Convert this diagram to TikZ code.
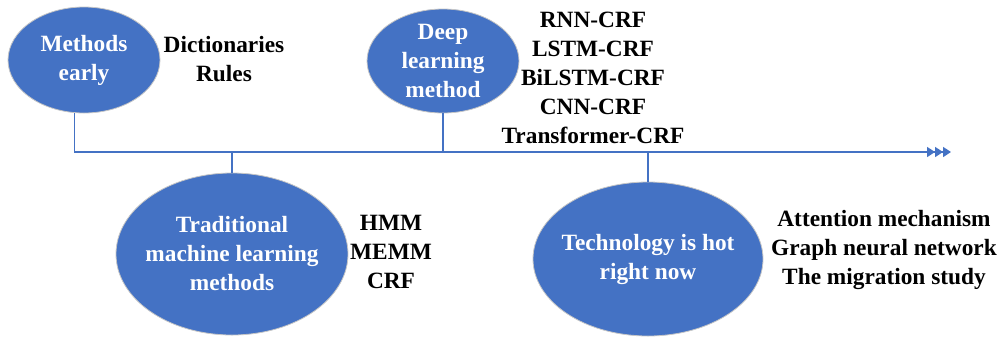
\documentclass[tikz,border=0pt]{standalone}
\usepackage{fontspec}
\setmainfont{Liberation Serif}
\usetikzlibrary{shapes.geometric,arrows.meta}
\definecolor{officeblue}{RGB}{68,114,196}
\begin{document}
\begin{tikzpicture}[x=0.75pt,y=-0.75pt,
  phase/.style={ellipse,fill=officeblue,draw=gray!45,line width=0.6pt,inner xsep=-40pt,inner ysep=-25pt,
    text=white,align=center,font=\fontsize{17.5}{21.75}\selectfont\bfseries},
  items/.style={align=center,font=\fontsize{17.5}{21.75}\selectfont\bfseries},
  link/.style={draw=officeblue,line width=1.2pt},
  tri/.style={-{Triangle[length=6pt,width=7.5pt,sep=0pt]Triangle[length=6pt,width=7.5pt,sep=0pt]Triangle[length=6pt,width=7.5pt]}}]
\useasboundingbox (0,0) rectangle (998,340);
\node[phase,minimum width=114pt,minimum height=79.5pt] (early) at (84,60) {Methods\\early};
\node[phase,minimum width=114pt,minimum height=78pt] (deep) at (443,61) {Deep\\learning\\method};
\node[phase,minimum width=174pt,minimum height=121.5pt] (trad) at (232,254) {Traditional\\machine learning\\methods};
\node[phase,minimum width=172.5pt,minimum height=115.5pt] (hot) at (648,259) {Technology is hot\\right now};
\node[items] (dict) at (224,59) {Dictionaries\\Rules};
\node[items] (crf) at (593,78) {RNN-CRF\\LSTM-CRF\\BiLSTM-CRF\\CNN-CRF\\Transformer-CRF};
\node[items] (hmm) at (391,252) {HMM\\MEMM\\CRF};
\node[items] (gnn) at (884,250) {Attention mechanism\\Graph neural network\\The migration study};
\coordinate (tend) at (951,152);
\draw[link,tri] (early.-100.6) |- (tend);
\draw[link] (deep.south) -- (deep.south |- tend);
\draw[link] (trad.north) -- (trad.north |- tend);
\draw[link] (hot.north) -- (hot.north |- tend);
\end{tikzpicture}
\end{document}
